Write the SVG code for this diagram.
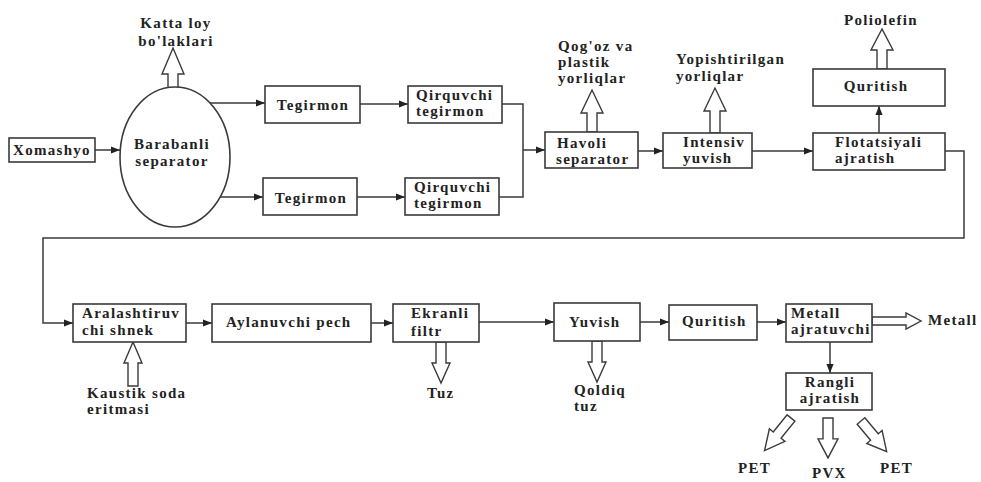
<svg xmlns="http://www.w3.org/2000/svg" width="981" height="482" viewBox="0 0 981 482">
<style>
.box{fill:#fff;stroke:#3a3a3a;stroke-width:1.6}
.t{font-family:"Liberation Serif","Times New Roman",serif;font-weight:bold;font-size:15px;letter-spacing:1.3px;fill:#222}
.c{text-anchor:middle}
.ln{fill:none;stroke:#3a3a3a;stroke-width:1.5}
.ha{fill:#fff;stroke:#3a3a3a;stroke-width:1.4;stroke-linejoin:miter}
</style>
<defs>
<marker id="ah" viewBox="0 0 10 10" refX="10" refY="5" markerWidth="9" markerHeight="9" markerUnits="userSpaceOnUse" orient="auto">
<path d="M0,1 L10,5 L0,9 z" fill="#222"/>
</marker>
<polygon id="hdown" points="-5,0 5,0 5,22 10,22 0,42 -10,22 -5,22"/>
</defs>
<rect width="981" height="482" fill="#fff"/>

<g id="connectors">
<line class="ln" x1="95" y1="150" x2="120" y2="150" marker-end="url(#ah)"/>
<line class="ln" x1="210" y1="103" x2="265" y2="103" marker-end="url(#ah)"/>
<line class="ln" x1="220" y1="197" x2="263" y2="197" marker-end="url(#ah)"/>
<line class="ln" x1="360" y1="104" x2="408" y2="104" marker-end="url(#ah)"/>
<line class="ln" x1="357" y1="197" x2="405" y2="197" marker-end="url(#ah)"/>
<polyline class="ln" points="502,104 523,104 523,197 499,197"/>
<line class="ln" x1="523" y1="150" x2="545" y2="150" marker-end="url(#ah)"/>
<line class="ln" x1="638" y1="151" x2="663" y2="151" marker-end="url(#ah)"/>
<line class="ln" x1="752" y1="151" x2="813" y2="151" marker-end="url(#ah)"/>
<line class="ln" x1="879" y1="133" x2="879" y2="106" marker-end="url(#ah)"/>
<polyline class="ln" points="945,151 964,151 964,238 43,238 43,323 73,323" marker-end="url(#ah)"/>
<line class="ln" x1="186" y1="323" x2="212" y2="323" marker-end="url(#ah)"/>
<line class="ln" x1="371" y1="323" x2="393" y2="323" marker-end="url(#ah)"/>
<line class="ln" x1="479" y1="322" x2="554" y2="322" marker-end="url(#ah)"/>
<line class="ln" x1="640" y1="322" x2="669" y2="322" marker-end="url(#ah)"/>
<line class="ln" x1="757" y1="322" x2="786" y2="322" marker-end="url(#ah)"/>
<line class="ln" x1="830" y1="342" x2="830" y2="373" marker-end="url(#ah)"/>
<!-- hollow flow arrows -->
<polygon class="ha" points="168,88 168,74 162,74 173,48 184,74 178,74 178,88"/>
<polygon class="ha" points="587,132 587,113 581,113 592,90 603,113 597,113 597,132"/>
<polygon class="ha" points="710,133 710,111 704,111 715,88 726,111 720,111 720,133"/>
<polygon class="ha" points="877,69 877,50 871,50 882,29 893,50 887,50 887,69"/>
<polygon class="ha" points="128,386 128,363 124,363 133,342 142,363 138,363 138,386"/>
<polygon class="ha" points="436,342 436,363 432,363 441,383 450,363 446,363 446,342"/>
<polygon class="ha" points="592,341 592,362 588,362 597,382 606,362 602,362 602,341"/>
<polygon class="ha" points="872,317 906,317 906,313 921,321 906,329 906,325 872,325"/>
<use href="#hdown" class="ha" transform="translate(828,418) scale(1,0.95)"/>
<use href="#hdown" class="ha" transform="translate(791,418) rotate(39)"/>
<use href="#hdown" class="ha" transform="translate(861,421) rotate(-40) scale(1,0.95)"/>
</g>

<g id="xomashyo"><rect class="box" x="9" y="138" width="86" height="24"/><text class="t" x="13" y="155">Xomashyo</text></g>
<g id="barabanli"><ellipse class="box" cx="175" cy="157" rx="55" ry="70"/><text class="t c" x="172" y="149">Barabanli</text><text class="t c" x="172" y="166">separator</text></g>
<g id="katta"><text class="t c" x="176" y="28">Katta loy</text><text class="t c" x="176" y="46">bo'laklari</text></g>
<g id="tegirmon1"><rect class="box" x="265" y="86" width="95" height="37"/><text class="t c" x="313" y="110">Tegirmon</text></g>
<g id="tegirmon2"><rect class="box" x="263" y="178" width="94" height="37"/><text class="t c" x="311" y="203">Tegirmon</text></g>
<g id="qirquvchi1"><rect class="box" x="408" y="86" width="94" height="37"/><text class="t" x="416" y="100">Qirquvchi</text><text class="t" x="416" y="116">tegirmon</text></g>
<g id="qirquvchi2"><rect class="box" x="405" y="178" width="94" height="37"/><text class="t" x="414" y="192">Qirquvchi</text><text class="t" x="414" y="208">tegirmon</text></g>
<g id="havoli"><rect class="box" x="545" y="132" width="93" height="36"/><text class="t" x="557" y="148">Havoli</text><text class="t" x="556" y="164">separator</text></g>
<g id="qogoz"><text class="t" x="558" y="51">Qog'oz va</text><text class="t" x="558" y="67">plastik</text><text class="t" x="558" y="83">yorliqlar</text></g>
<g id="intensiv"><rect class="box" x="663" y="133" width="89" height="35"/><text class="t" x="683" y="147">Intensiv</text><text class="t" x="683" y="163">yuvish</text></g>
<g id="yopish"><text class="t" x="676" y="64">Yopishtirilgan</text><text class="t" x="676" y="81">yorliqlar</text></g>
<g id="flotatsiyali"><rect class="box" x="813" y="133" width="132" height="37"/><text class="t" x="835" y="147">Flotatsiyali</text><text class="t" x="835" y="163">ajratish</text></g>
<g id="quritish1"><rect class="box" x="813" y="69" width="132" height="37"/><text class="t c" x="876" y="91">Quritish</text></g>
<g id="poliolefin"><text class="t c" x="881" y="25">Poliolefin</text></g>
<g id="aralash"><rect class="box" x="73" y="304" width="113" height="38"/><text class="t" x="82" y="318">Aralashtiruv</text><text class="t" x="82" y="335">chi shnek</text></g>
<g id="kaustik"><text class="t" x="87" y="398">Kaustik soda</text><text class="t" x="87" y="414">eritmasi</text></g>
<g id="aylanuvchi"><rect class="box" x="212" y="304" width="159" height="38"/><text class="t" x="226" y="327">Aylanuvchi pech</text></g>
<g id="ekranli"><rect class="box" x="393" y="304" width="86" height="38"/><text class="t" x="411" y="318">Ekranli</text><text class="t" x="411" y="336">filtr</text></g>
<g id="tuz"><text class="t" x="427" y="398">Tuz</text></g>
<g id="yuvish"><rect class="box" x="554" y="303" width="86" height="38"/><text class="t" x="569" y="327">Yuvish</text></g>
<g id="qoldiq"><text class="t" x="574" y="395">Qoldiq</text><text class="t" x="574" y="411">tuz</text></g>
<g id="quritish2"><rect class="box" x="669" y="305" width="88" height="35"/><text class="t" x="682" y="326">Quritish</text></g>
<g id="metallajr"><rect class="box" x="786" y="304" width="86" height="38"/><text class="t" x="791" y="318">Metall</text><text class="t" x="791" y="334">ajratuvchi</text></g>
<g id="metall"><text class="t" x="928" y="325">Metall</text></g>
<g id="rangli"><rect class="box" x="786" y="373" width="86" height="37"/><text class="t c" x="830" y="387">Rangli</text><text class="t c" x="830" y="403">ajratish</text></g>
<g id="pet1"><text class="t" x="738" y="473">PET</text></g>
<g id="pvx"><text class="t" x="812" y="478">PVX</text></g>
<g id="pet2"><text class="t" x="880" y="473">PET</text></g>
</svg>
